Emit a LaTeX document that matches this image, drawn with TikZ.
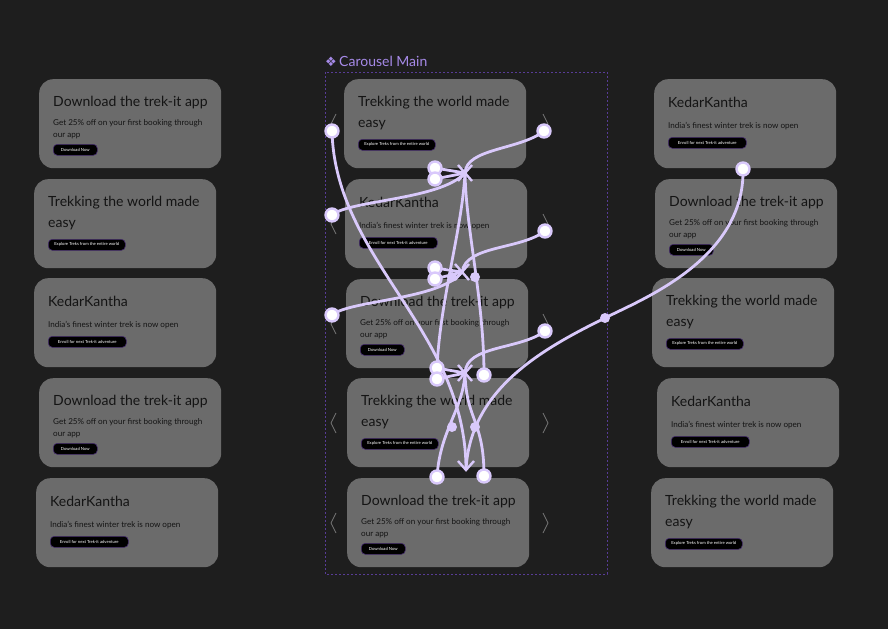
\documentclass[tikz,border=0pt]{standalone}
\usepackage{fontspec}
\setmainfont{Lato}
\newfontfamily\symfont{DejaVu Sans}
\usetikzlibrary{calc}
\definecolor{bg}{RGB}{30,30,30}
\definecolor{cardgray}{RGB}{107,107,107}
\definecolor{cardtext}{RGB}{20,20,20}
\definecolor{lav}{RGB}{217,201,251}
\definecolor{titlepurple}{RGB}{166,138,232}
\definecolor{framepurple}{RGB}{88,60,150}
\definecolor{chevgray}{RGB}{118,118,118}
\definecolor{btnborder}{RGB}{70,45,110}
\tikzset{
  card/.style={fill=cardgray, rounded corners=14pt, minimum width=182pt, minimum height=89pt, inner sep=0pt, anchor=north west},
  ttl/.style={font=\fontsize{14}{14}\selectfont, text=cardtext, inner sep=0pt, anchor=base west},
  sub/.style={font=\fontsize{8.1}{8.1}\selectfont, text=cardtext, inner sep=0pt, anchor=base west},
  btn/.style={fill=black, draw=btnborder, line width=0.6pt, rounded corners=4pt, inner sep=0pt, minimum height=11pt, text=white, font=\fontsize{4.2}{4.2}\selectfont, anchor=north west},
  chev/.style={draw=chevgray, line width=0.8pt},
  conn/.style={draw=lav, line width=2.8pt},
  anchorpt/.style={circle, inner sep=0pt, minimum size=14pt},
  origin/.style={circle, fill=white, draw=lav, line width=2.4pt, minimum size=13pt, inner sep=0pt},
  dot/.style={circle, fill=lav, minimum size=10pt, inner sep=0pt},
  framedash/.style={draw=framepurple, line width=0.7pt, dash pattern=on 2pt off 2pt}
}
\newcommand\dlcard[3]{%
  \node[card] (#1) at (#2,#3) {};
  \node[ttl] (#1-t) at ($(#1.north west)+(14,27)$) {Download the trek-it app};
  \node[sub] (#1-s) at ($(#1.north west)+(14,46)$) {Get 25\% off on your first booking through};
  \node[sub] (#1-s2) at ($(#1.north west)+(14,58)$) {our app};
  \node[btn, minimum width=44pt] (#1-b) at ($(#1.north west)+(14,65)$) {Download Now};
}
\newcommand\trekcard[3]{%
  \node[card] (#1) at (#2,#3) {};
  \node[ttl] (#1-t) at ($(#1.north west)+(14,27)$) {Trekking the world made};
  \node[ttl] (#1-t2) at ($(#1.north west)+(14,48)$) {easy};
  \node[btn, minimum width=77pt] (#1-b) at ($(#1.north west)+(14,60)$) {Explore Treks from the entire world};
}
\newcommand\kedcard[3]{%
  \node[card] (#1) at (#2,#3) {};
  \node[ttl] (#1-t) at ($(#1.north west)+(14,28)$) {KedarKantha};
  \node[sub] (#1-s) at ($(#1.north west)+(14,49)$) {India's finest winter trek is now open};
  \node[btn, minimum width=78pt] (#1-b) at ($(#1.north west)+(14,58)$) {Enroll for next Trek-it adventure};
}
\begin{document}
\begin{tikzpicture}[x=1pt,y=-1pt]
\fill[bg] (0,0) rectangle (888,629);
\useasboundingbox (0,0) rectangle (888,629);

% title and frame
\node[anchor=west, inner sep=0pt, text=titlepurple, font=\fontsize{14}{14}\selectfont] (maintitle) at (325,61) {{\symfont\fontsize{13}{13}\selectfont ❖}\,Carousel Main};
\draw[framedash] (325,72) rectangle (607,574);

% left column
\dlcard{L1}{39}{79}
\trekcard{L2}{34}{179}
\kedcard{L3}{34}{278}
\dlcard{L4}{39}{378}
\kedcard{L5}{36}{478}
% center column
\trekcard{C1}{344}{79}
\kedcard{C2}{345}{179}
\dlcard{C3}{346}{279}
\trekcard{C4}{347}{378}
\dlcard{C5}{347}{478}
% right column
\kedcard{R1}{654}{79}
\dlcard{R2}{655}{179}
\trekcard{R3}{652}{278}
\kedcard{R4}{657}{378}
\trekcard{R5}{651}{478}

% chevrons
\foreach \yy in {124,224,324,423,523}{
  \draw[chev] (336,\yy-10) -- (331,\yy) -- (336,\yy+10);
  \draw[chev] (543,\yy-10) -- (548,\yy) -- (543,\yy+10);
}

% junction coordinates
\coordinate (x1) at (465,173);
\coordinate (x2) at (462,272);
\coordinate (x3) at (465,373);
\coordinate (arr) at (466,470);

% connector end points
\path
  (332,131) node[anchorpt] (ol1) {}
  (332,215) node[anchorpt] (ol2) {}
  (332,315) node[anchorpt] (ol3) {}
  (544,131) node[anchorpt] (or1) {}
  (545,231) node[anchorpt] (or2) {}
  (545,331) node[anchorpt] (or3) {}
  (743,169) node[anchorpt] (ork) {}
  (435,168) node[anchorpt] (s1a) {}
  (435,179) node[anchorpt] (s1b) {}
  (435,268) node[anchorpt] (s2a) {}
  (435,279) node[anchorpt] (s2b) {}
  (437,368) node[anchorpt] (s3a) {}
  (437,379) node[anchorpt] (s3b) {}
  (484,375) node[anchorpt] (s3c) {}
  (437,477) node[anchorpt] (s4a) {}
  (484,476) node[anchorpt] (s4b) {}
  (605,318) node[anchorpt] (d5) {};

% connectors
\draw[conn] (ol1.center) .. controls (335,260) and (466,330) .. (arr);
\draw[conn] (or1.center) .. controls (520,150) and (466,148) .. (x1);
\draw[conn] (ol2.center) .. controls (350,200) and (440,200) .. (x1);
\draw[conn] (s1a.center) -- (x1);
\draw[conn] (s1b.center) -- (x1);
\draw[conn] (s3a.center) .. controls (440,300) and (462,230) .. (x1);
\draw[conn] (s3c.center) .. controls (484,300) and (466,230) .. (x1);
\draw[conn] (or2.center) .. controls (520,250) and (466,245) .. (x2);
\draw[conn] (ol3.center) .. controls (350,300) and (440,300) .. (x2);
\draw[conn] (s2a.center) -- (x2);
\draw[conn] (s2b.center) -- (x2);
\draw[conn] (or3.center) .. controls (520,350) and (466,345) .. (x3);
\draw[conn] (s3a.center) -- (x3);
\draw[conn] (s3b.center) -- (x3);
\draw[conn] (s4a.center) .. controls (440,430) and (463,410) .. (x3);
\draw[conn] (s4b.center) .. controls (484,420) and (466,420) .. (x3);
\draw[conn] (ork.center) .. controls (745,260) and (640,300) .. (d5.center) .. controls (540,350) and (470,390) .. (arr);

% junction marks
\foreach \jj in {x1,x2,x3}{
  \draw[conn, line width=2.4pt] ($(\jj)+(-7,-8)$) -- ($(\jj)+(7,8)$);
  \draw[conn, line width=2.4pt] ($(\jj)+(-7,8)$) -- ($(\jj)+(7,-8)$);
}
\draw[conn, line width=2.4pt, line join=miter] ($(arr)+(-8,-9)$) -- (arr) -- ($(arr)+(8,-9)$);

% dots
\node[dot] (d1) at (452,277) {};
\node[dot] (d2) at (475,277) {};
\node[dot] (d3) at (452,427) {};
\node[dot] (d4) at (475,427) {};
\node[dot] at (d5) {};

% origin circles
\foreach \oo in {ol1,ol2,ol3,or1,or2,or3,ork,s1a,s1b,s2a,s2b,s3a,s3b,s3c,s4a,s4b}{
  \node[origin] at (\oo) {};
}
\end{tikzpicture}
\end{document}
